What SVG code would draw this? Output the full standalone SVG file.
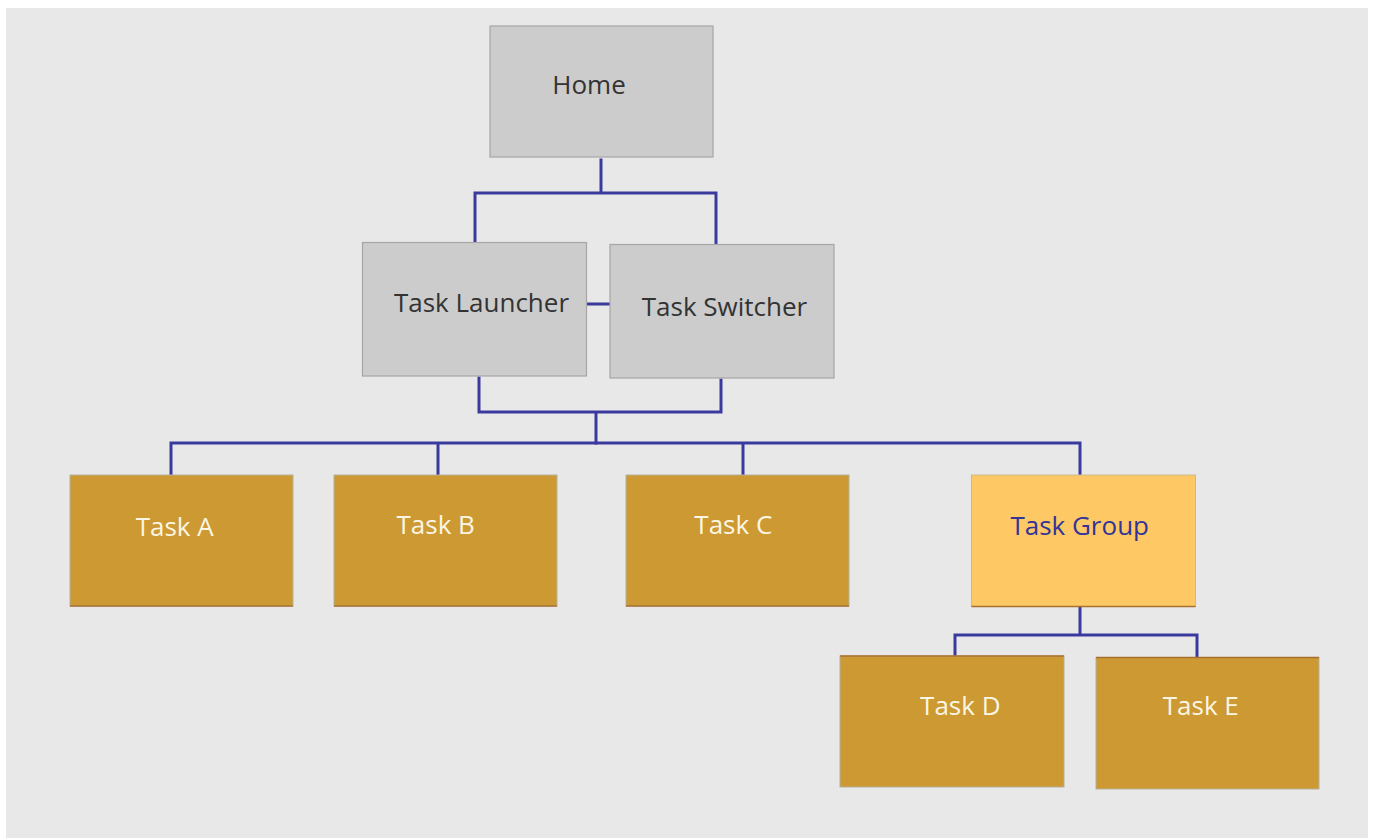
<svg xmlns="http://www.w3.org/2000/svg" width="1373" height="838" viewBox="0 0 1373 838">
<style>
.bg{fill:#e8e8e8}
.gray{fill:#cccccc;stroke:#a6a6a6;stroke-width:1.2}
.task{fill:#cc9933;stroke:#b5b09a;stroke-width:1}
.tbot{stroke:#a8702c;stroke-width:1.5}
.grp{fill:#fec864;stroke:#c9b98c;stroke-width:1}
.lbl{font-family:"Open Sans","Noto Sans",sans-serif;font-size:26px;text-anchor:middle}
.dark{fill:#333333}
.light{fill:#fbf6e4}
.blue{fill:#333399}
.conn{fill:none;stroke:#3a3a9e;stroke-width:3;stroke-linecap:square}
</style>
<rect class="bg" x="6" y="8" width="1362" height="830"/>
<g id="connectors">
<path class="conn" d="M601 160 V193 M475 193 H716 M475 193 V241 M716 196 V243"/>
<path class="conn" d="M587 304 H609"/>
<path class="conn" d="M479 378 V412 H721 V380 M596 412 V443"/>
<path class="conn" d="M171 443 H1080 M171 443 V474 M438 443 V474 M743 443 V474 M1080 443 V474"/>
<path class="conn" d="M1080 608 V635 M955 635 H1197 M955 635 V655 M1197 635 V656"/>
</g>
<g id="home"><rect class="gray" x="490" y="26" width="223" height="131"/><text class="lbl dark" x="589" y="94">Home</text></g>
<g id="task-launcher"><rect class="gray" x="362.5" y="242.5" width="224" height="133.5"/><text class="lbl dark" x="481.5" y="311.5">Task Launcher</text></g>
<g id="task-switcher"><rect class="gray" x="610" y="244.5" width="224" height="133.5"/><text class="lbl dark" x="724.5" y="315.5">Task Switcher</text></g>
<g id="task-a"><rect class="task" x="70" y="475" width="223" height="131"/><line class="tbot" x1="70" y1="606" x2="293" y2="606"/><text class="lbl light" x="174.7" y="536">Task A</text></g>
<g id="task-b"><rect class="task" x="334" y="475" width="223" height="131"/><line class="tbot" x1="334" y1="606" x2="557" y2="606"/><text class="lbl light" x="435.7" y="534">Task B</text></g>
<g id="task-c"><rect class="task" x="626" y="475" width="223" height="131"/><line class="tbot" x1="626" y1="606" x2="849" y2="606"/><text class="lbl light" x="733.3" y="534">Task C</text></g>
<g id="task-group"><rect class="grp" x="971.5" y="475" width="224" height="131.5"/><line class="tbot" x1="971.5" y1="606.5" x2="1195.5" y2="606.5"/><text class="lbl blue" x="1079.7" y="535">Task Group</text></g>
<g id="task-d"><rect class="task" x="840" y="656" width="224" height="131"/><line class="tbot" x1="840" y1="656" x2="1064" y2="656"/><text class="lbl light" x="960.3" y="715">Task D</text></g>
<g id="task-e"><rect class="task" x="1096" y="657.5" width="223" height="131.5"/><line class="tbot" x1="1096" y1="657.5" x2="1319" y2="657.5"/><text class="lbl light" x="1200.8" y="715">Task E</text></g>
</svg>
